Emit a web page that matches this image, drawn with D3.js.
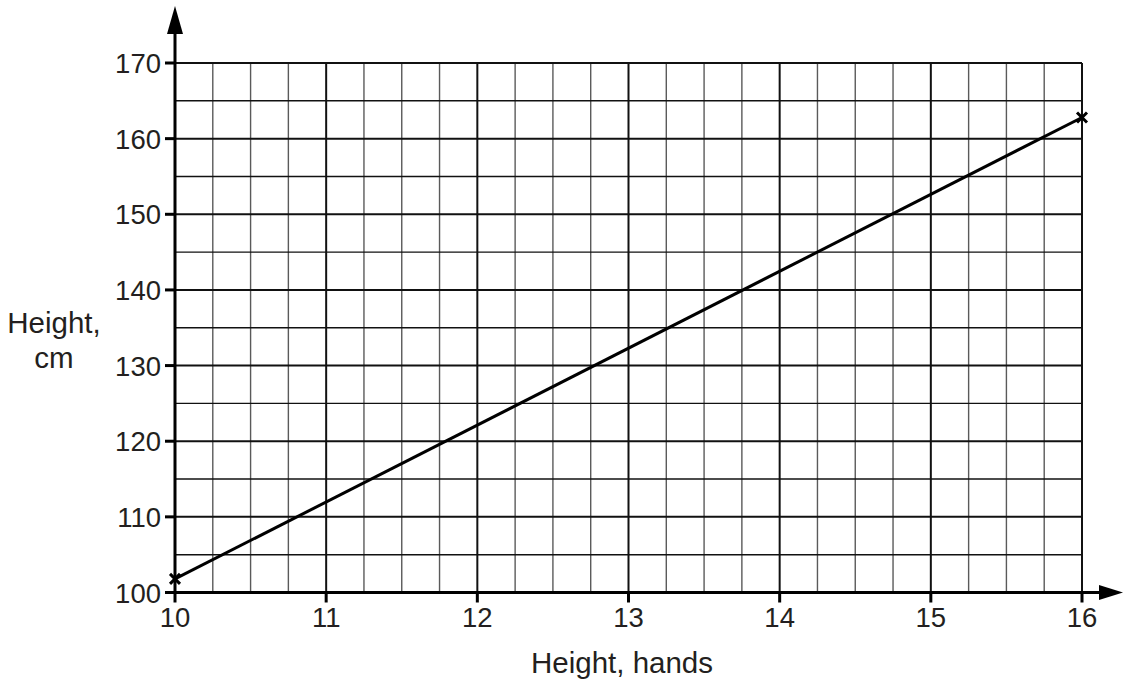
<!DOCTYPE html>
<html>
<head>
<meta charset="utf-8">
<script src="https://cdn.jsdelivr.net/npm/d3@7"></script>
<style>
  body { margin: 0; background: #fff; }
  text { font-family: "Liberation Sans", Arial, Helvetica, sans-serif; fill: #231f20; }
</style>
</head>
<body>
<svg id="chart" width="1124" height="681"></svg>
<script>
// data
var hands = [10, 16];
var heightsCm = [101.8, 162.8];
var xTicks = [10, 11, 12, 13, 14, 15, 16];
var yTicks = [100, 110, 120, 130, 140, 150, 160, 170];
var xTitle = "Height, hands";
var yTitle = ["Height,", "cm"];

var svg = d3.select("#chart");

var x = d3.scaleLinear().domain([10, 16]).range([175, 1082]);
var y = d3.scaleLinear().domain([100, 170]).range([592.5, 63]);

// grid
var g = svg.append("g");

// minor vertical lines every quarter hand
g.selectAll("line.vminor")
  .data(d3.range(10, 16.001, 0.25).filter(function (d) { return Math.abs(d - Math.round(d)) > 0.01; }))
  .enter().append("line")
  .attr("x1", function (d) { return x(d); })
  .attr("x2", function (d) { return x(d); })
  .attr("y1", y(100)).attr("y2", y(170))
  .attr("stroke", "#5a5a5a").attr("stroke-width", 1.4);

// horizontal lines every 5 cm
g.selectAll("line.h")
  .data(d3.range(105, 171, 5))
  .enter().append("line")
  .attr("x1", x(10)).attr("x2", x(16))
  .attr("y1", function (d) { return y(d); })
  .attr("y2", function (d) { return y(d); })
  .attr("stroke", "#111")
  .attr("stroke-width", function (d) { return d % 10 === 0 ? 2 : 1.4; });

// major vertical lines
g.selectAll("line.vmajor")
  .data(xTicks.slice(1))
  .enter().append("line")
  .attr("x1", function (d) { return x(d); })
  .attr("x2", function (d) { return x(d); })
  .attr("y1", y(100)).attr("y2", y(170))
  .attr("stroke", "#111").attr("stroke-width", 2);

// axes with arrows
svg.append("line")
  .attr("x1", x(10)).attr("x2", 1102)
  .attr("y1", y(100)).attr("y2", y(100))
  .attr("stroke", "#000").attr("stroke-width", 3);
svg.append("path")
  .attr("d", "M1123," + y(100) + "L1099," + (y(100) - 7.5) + "L1099," + (y(100) + 7.5) + "Z")
  .attr("fill", "#000");

svg.append("line")
  .attr("x1", x(10)).attr("x2", x(10))
  .attr("y1", y(100)).attr("y2", 30)
  .attr("stroke", "#000").attr("stroke-width", 3);
svg.append("path")
  .attr("d", "M" + x(10) + ",6L" + (x(10) - 8) + ",34L" + (x(10) + 8) + ",34Z")
  .attr("fill", "#000");

// ticks and labels
svg.selectAll("line.xt")
  .data(xTicks).enter().append("line")
  .attr("x1", function (d) { return x(d); })
  .attr("x2", function (d) { return x(d); })
  .attr("y1", y(100)).attr("y2", y(100) + 10)
  .attr("stroke", "#000").attr("stroke-width", 3);

svg.selectAll("text.xt")
  .data(xTicks).enter().append("text")
  .attr("x", function (d) { return x(d); })
  .attr("y", 627)
  .attr("text-anchor", "middle")
  .attr("font-size", 27.5)
  .text(function (d) { return d; });

svg.selectAll("line.yt")
  .data(yTicks).enter().append("line")
  .attr("x1", x(10) - 10).attr("x2", x(10))
  .attr("y1", function (d) { return y(d); })
  .attr("y2", function (d) { return y(d); })
  .attr("stroke", "#000").attr("stroke-width", 3);

svg.selectAll("text.yt")
  .data(yTicks).enter().append("text")
  .attr("x", 161)
  .attr("y", function (d) { return y(d) + 10; })
  .attr("text-anchor", "end")
  .attr("font-size", 27.5)
  .text(function (d) { return d; });

// titles
svg.append("text")
  .attr("x", 622).attr("y", 673)
  .attr("text-anchor", "middle")
  .attr("font-size", 29.5)
  .text(xTitle);

svg.selectAll("text.ytitle")
  .data(yTitle).enter().append("text")
  .attr("x", 54)
  .attr("y", function (d, i) { return 333 + i * 35; })
  .attr("text-anchor", "middle")
  .attr("font-size", 29.5)
  .text(function (d) { return d; });

// the conversion line
var pts = hands.map(function (h, i) { return [h, heightsCm[i]]; });
svg.append("path")
  .datum(pts)
  .attr("d", d3.line().x(function (d) { return x(d[0]); }).y(function (d) { return y(d[1]); }))
  .attr("fill", "none").attr("stroke", "#000").attr("stroke-width", 3);

svg.selectAll("path.mark")
  .data(pts).enter().append("path")
  .attr("d", function (d) {
    var cx = x(d[0]), cy = y(d[1]), s = 5;
    return "M" + (cx - s) + "," + (cy - s) + "L" + (cx + s) + "," + (cy + s) +
           "M" + (cx - s) + "," + (cy + s) + "L" + (cx + s) + "," + (cy - s);
  })
  .attr("stroke", "#000").attr("stroke-width", 3);
</script>
</body>
</html>
